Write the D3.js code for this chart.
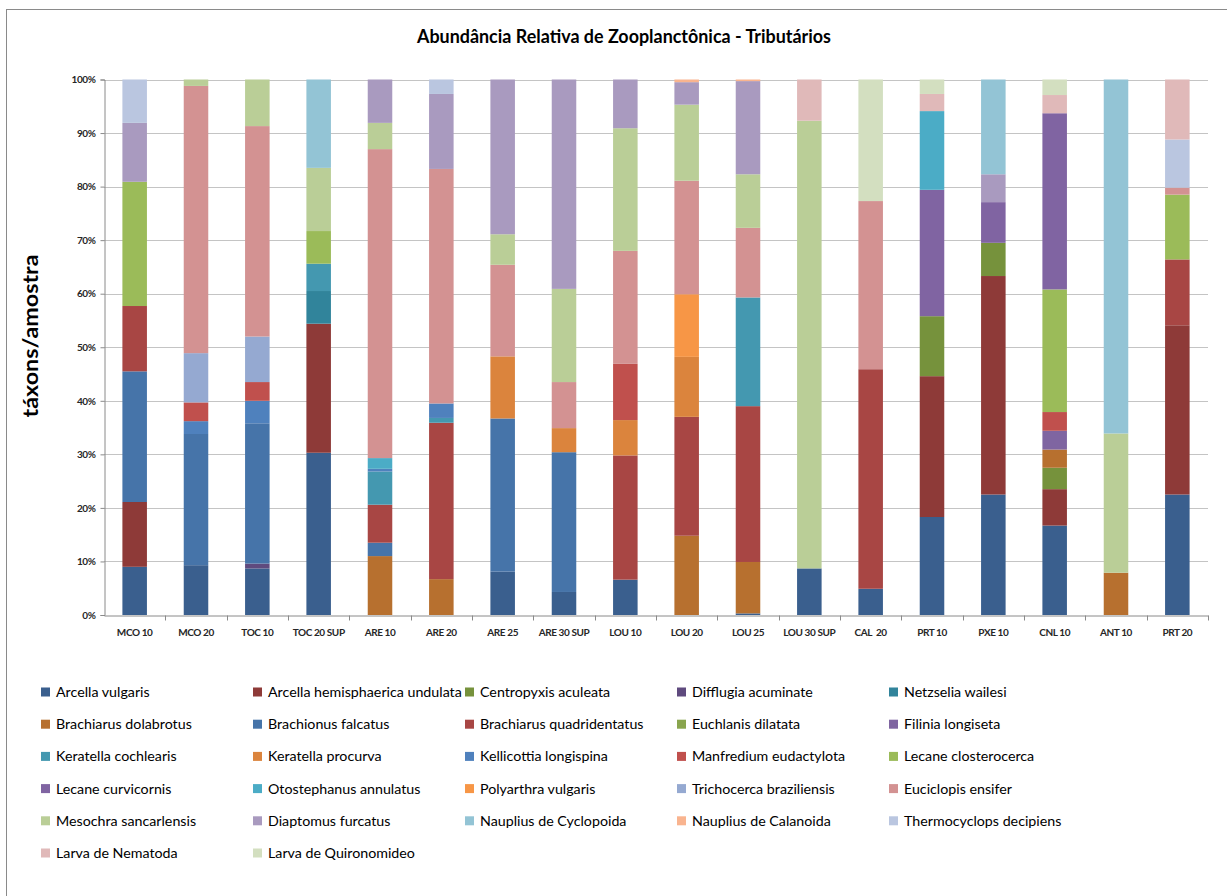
<!DOCTYPE html>
<html><head><meta charset="utf-8">
<script src="https://cdn.jsdelivr.net/npm/d3@7"></script>
<style>body{margin:0;background:#fff;} svg{display:block;font-family:Lato,'Open Sans',sans-serif;}</style>
</head><body><svg id="c" width="1227" height="896"></svg>
<script>
const chartTitle = "Abundância Relativa de Zooplanctônica - Tributários";
const yTitle = "táxons/amostra";
const categories = ["MCO 10","MCO 20","TOC 10","TOC 20 SUP","ARE 10","ARE 20","ARE 25","ARE 30 SUP","LOU 10","LOU 20","LOU 25","LOU 30 SUP","CAL  20","PRT 10","PXE 10","CNL 10","ANT 10","PRT 20"];
const seriesNames = ["Arcella vulgaris","Arcella hemisphaerica undulata","Centropyxis aculeata","Difflugia acuminate","Netzselia wailesi","Brachiarus dolabrotus","Brachionus falcatus","Brachiarus quadridentatus","Euchlanis dilatata","Filinia longiseta","Keratella cochlearis","Keratella procurva","Kellicottia longispina","Manfredium eudactylota","Lecane closterocerca","Lecane curvicornis","Otostephanus annulatus","Polyarthra vulgaris","Trichocerca braziliensis","Euciclopis ensifer","Mesochra sancarlensis","Diaptomus furcatus","Nauplius de Cyclopoida","Nauplius de Calanoida","Thermocyclops decipiens","Larva de Nematoda","Larva de Quironomideo"];
const seriesColors = ["#3A5F8E","#8E3A38","#76923C","#5F4A7E","#31849B","#B7702F","#4674A9","#A84644","#89A54E","#7F65A1","#4498B0","#DB843D","#4F81BD","#C0504D","#9BBB59","#8064A2","#4BACC6","#F79646","#95A9D1","#D39292","#BACE97","#A99ABF","#93C4D5","#F9B48F","#BAC6E0","#E0B9B9","#D3DFC0"];
const yTicks = [0,0.1,0.2,0.3,0.4,0.5,0.6,0.7,0.8,0.9,1];

// values (% of sample) per series, one entry per category
const arcellaVulgaris      = [9.0,9.3,8.7,30.3,0,0,8.1,4.3,6.6,0,0.3,8.7,4.9,18.3,22.5,16.7,0,22.5];
const arcellaHemisphaerica = [12.1,0,0,24.1,0,0,0,0,0,0,0,0,0,26.3,40.8,6.8,0,31.6];
const centropyxis          = [0,0,0,0,0,0,0,0,0,0,0,0,0,11.2,6.2,4.0,0,0];
const difflugia            = [0,0,0.9,0,0,0,0,0,0,0,0,0,0,0,0,0,0,0];
const netzselia            = [0,0,0,6.1,0,0,0,0,0,0,0,0,0,0,0,0,0,0];
const brachiarusDolabrotus = [0,0,0,0,11.0,6.7,0,0,0,14.8,9.6,0,0,0,0,3.4,7.9,0];
const brachionusFalcatus   = [24.4,24.5,26.2,0,2.5,0,28.6,26.1,0,0,0,0,0,0,0,0,0,0];
const brachiarusQuadri     = [12.2,0,0,0,7.1,29.2,0,0,23.2,22.2,29.1,0,41.0,0,0,0,0,12.3];
const euchlanis            = [0,0,0,0,0,0,0,0,0,0,0,0,0,0,0,0,0,0];
const filinia              = [0,0,0,0,0,0,0,0,0,0,0,0,0,0,0,3.5,0,0];
const keratellaCochlearis  = [0,0,0,5.1,6.2,0.9,0,0,0,0,20.3,0,0,0,0,0,0,0];
const keratellaProcurva    = [0,0,0,0,0,0,11.6,4.5,6.6,11.2,0,0,0,0,0,0,0,0];
const kellicottia          = [0,2.4,4.2,0,0.5,2.7,0,0,0,0,0,0,0,0,0,0,0,0];
const manfredium           = [0,3.5,3.5,0,0,0,0,0,10.5,0,0,0,0,0,0,3.5,0,0];
const lecaneClosterocerca  = [23.2,0,0,6.1,0,0,0,0,0,0,0,0,0,0,0,22.9,0,12.1];
const lecaneCurvicornis    = [0,0,0,0,0,0,0,0,0,0,0,0,0,23.6,7.6,32.9,0,0];
const otostephanus         = [0,0,0,0,2.0,0,0,0,0,0,0,0,0,14.7,0,0,0,0];
const polyarthra           = [0,0,0,0,0,0,0,0,0,11.7,0,0,0,0,0,0,0,0];
const trichocerca          = [0,9.2,8.5,0,0,0,0,0,0,0,0,0,0,0,0,0,0,0];
const euciclopis           = [0,49.9,39.3,0,57.7,43.8,17.1,8.6,21.1,21.2,13.0,0,31.4,0,0,0,0,1.3];
const mesochra             = [0,1.2,8.7,11.8,4.9,0,5.7,17.4,22.9,14.2,10.0,83.6,0,0,0,0,26.0,0];
const diaptomus            = [11.0,0,0,0,8.1,14.0,28.9,39.1,9.1,4.2,17.4,0,0,0,5.2,0,0,0];
const naupliusCyclopoida   = [0,0,0,16.5,0,0,0,0,0,0,0,0,0,0,17.7,0,66.1,0];
const naupliusCalanoida    = [0,0,0,0,0,0,0,0,0,0.5,0.3,0,0,0,0,0,0,0];
const thermocyclops        = [8.1,0,0,0,0,2.7,0,0,0,0,0,0,0,0,0,0,0,9.0];
const larvaNematoda        = [0,0,0,0,0,0,0,0,0,0,0,7.7,0,3.2,0,3.4,0,11.2];
const larvaQuironomideo    = [0,0,0,0,0,0,0,0,0,0,0,0,22.7,2.7,0,2.9,0,0];

const seriesValues = [arcellaVulgaris,arcellaHemisphaerica,centropyxis,difflugia,netzselia,brachiarusDolabrotus,brachionusFalcatus,brachiarusQuadri,euchlanis,filinia,keratellaCochlearis,keratellaProcurva,kellicottia,manfredium,lecaneClosterocerca,lecaneCurvicornis,otostephanus,polyarthra,trichocerca,euciclopis,mesochra,diaptomus,naupliusCyclopoida,naupliusCalanoida,thermocyclops,larvaNematoda,larvaQuironomideo];

const svg = d3.select("#c");
svg.append("rect").attr("x",6.5).attr("y",9.5).attr("width",1250).attr("height",920)
  .attr("fill","#fff").attr("stroke","#8a8a8a").attr("stroke-width",1);

const plotL = 104, plotR = 1208, plotT = 79.5, plotB = 615;
const x = d3.scaleBand().domain(categories).range([plotL, plotR]).paddingInner(0.6).paddingOuter(0.3);
const y = d3.scaleLinear().domain([0,1]).range([plotB, plotT]);

// gridlines
svg.append("g").selectAll("line").data(yTicks.filter(d=>d>0)).join("line")
  .attr("x1",plotL).attr("x2",plotR).attr("y1",d=>Math.round(y(d))+0.5).attr("y2",d=>Math.round(y(d))+0.5)
  .attr("stroke","#c4c4c4").attr("stroke-width",1);

// data table
const table = categories.map((c,i)=>{ const o={cat:c}; seriesNames.forEach((s,j)=>o[s]=seriesValues[j][i]); return o; });
const stack = d3.stack().keys(seriesNames).offset(d3.stackOffsetExpand);
const layers = stack(table);

const g = svg.append("g");
layers.forEach((layer,j)=>{
  g.append("g").attr("fill",seriesColors[j]).selectAll("rect").data(layer.filter(d=>d[1]-d[0]>0)).join("rect")
    .attr("x",d=>x(d.data.cat)).attr("width",x.bandwidth())
    .attr("y",d=>y(d[1])).attr("height",d=>y(d[0])-y(d[1]));
});

// y axis
const yAxis = svg.append("g").attr("transform",`translate(${plotL+0.5},0)`)
  .call(d3.axisLeft(y).tickValues(yTicks).tickFormat(d3.format(".0%")).tickSize(4).tickPadding(5));
yAxis.select(".domain").attr("stroke","#8a8a8a");
yAxis.selectAll(".tick line").attr("stroke","#8a8a8a");
yAxis.selectAll("text").attr("font-size",10).attr("font-weight","bold").attr("fill","#262626")
  .attr("font-family","Lato,sans-serif").attr("letter-spacing","-0.4");

// x axis
const xAxis = svg.append("g").attr("transform",`translate(0,${plotB+0.5})`)
  .call(d3.axisBottom(x).tickSize(0).tickPadding(13));
xAxis.select(".domain").attr("stroke","#8a8a8a");
xAxis.selectAll("text").attr("font-size",10).attr("font-weight","bold").attr("fill","#262626")
  .attr("font-family","Lato,sans-serif").attr("letter-spacing","-0.4").style("white-space","pre");
const step = x.step();
const bounds = categories.map(c=>x(c)+x.bandwidth()/2+step/2);
xAxis.append("g").selectAll("line").data(bounds).join("line")
  .attr("x1",d=>Math.round(d)+0.5).attr("x2",d=>Math.round(d)+0.5).attr("y1",0).attr("y2",5)
  .attr("stroke","#8a8a8a");

// title
const t = svg.append("text").attr("x",624).attr("y",43).attr("text-anchor","middle")
  .attr("font-size",18).attr("font-weight","bold").attr("fill","#000").text(chartTitle);
t.attr("textLength",414).attr("lengthAdjust","spacingAndGlyphs");

// y title
svg.append("text").attr("transform","translate(38,336) rotate(-90)").attr("text-anchor","middle")
  .attr("font-size",20).attr("font-weight","bold").attr("fill","#000").text(yTitle)
  .attr("textLength",163).attr("lengthAdjust","spacingAndGlyphs");

// legend
const cols = 5, colW = 212, legX = 41, legY = 692, rowH = 32.2;
const leg = svg.append("g");
const items = leg.selectAll("g").data(seriesNames).join("g")
  .attr("transform",(d,i)=>`translate(${legX + (i%cols)*colW},${legY + Math.floor(i/cols)*rowH})`);
items.append("rect").attr("x",0).attr("y",-4.5).attr("width",9).attr("height",9).attr("fill",(d,i)=>seriesColors[i]);
const labels = items.append("text").attr("x",15).attr("y",5).attr("font-size",14).attr("fill","#000").text(d=>d);
// fit font to reference label width
const refNode = labels.filter(d=>d==="Arcella hemisphaerica undulata").node();
const refW = refNode.getComputedTextLength();
const fs = 14*194/refW;
labels.attr("font-size",fs);
</script></body></html>
